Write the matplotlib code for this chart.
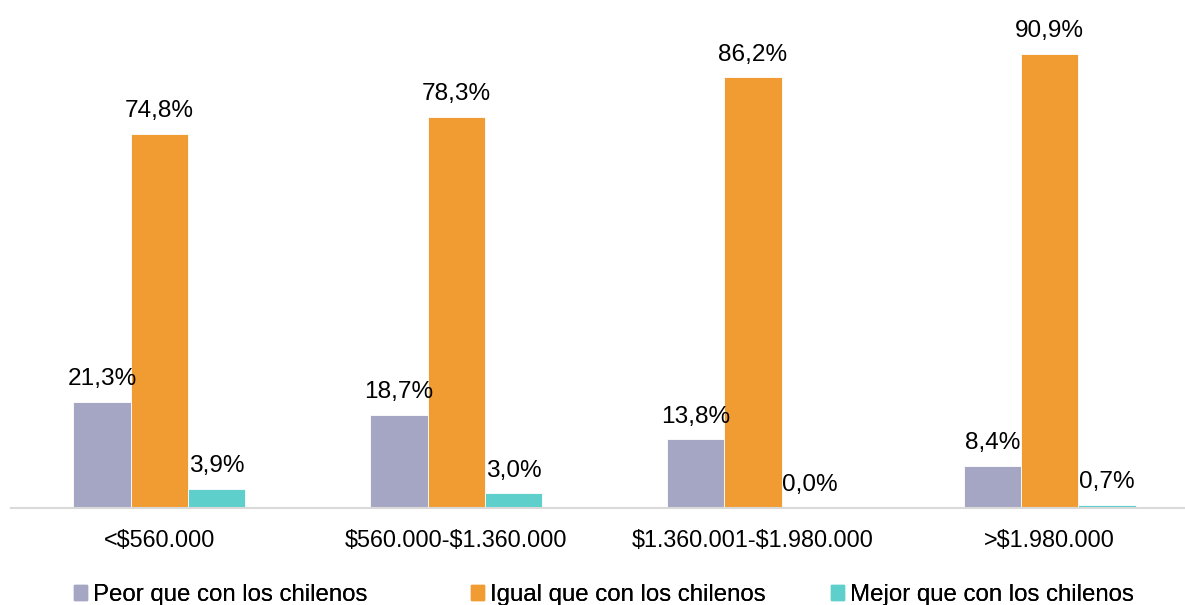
import numpy as np
import matplotlib
matplotlib.use("Agg")
import matplotlib.pyplot as plt
from matplotlib.patches import Patch

plt.rcParams['font.family'] = ['Liberation Sans', 'DejaVu Sans']
plt.rcParams['text.parse_math'] = False

categories = ['<$560.000', '$560.000-$1.360.000', '$1.360.001-$1.980.000', '>$1.980.000']
series_names = ['Peor que con los chilenos', 'Igual que con los chilenos', 'Mejor que con los chilenos']
peor = [21.3, 18.7, 13.8, 8.4]
igual = [74.8, 78.3, 86.2, 90.9]
mejor = [3.9, 3.0, 0.0, 0.7]
colors = ['#A5A5C4', '#F19C33', '#5ECFCB']

fig = plt.figure(figsize=(11.85, 6.05), dpi=100)
ax = fig.add_axes([11 / 1185, 97 / 605, 1174 / 1185, 500 / 605])

x = np.arange(len(categories))
w = 0.193
for i, (vals, name, c) in enumerate(zip([peor, igual, mejor], series_names, colors)):
    pos = x + (i - 1) * w
    ax.bar(pos, vals, width=w, color=c, label=name, edgecolor='white', linewidth=0.6)
    for p, v in zip(pos, vals):
        ax.text(p, v + 2.3, f'{v:.1f}%'.replace('.', ','), ha='center', va='bottom', fontsize=17.6)

ax.set_ylim(0, 100)
ax.set_xlim(-0.5, 3.456)
ax.set_xticks(x)
ax.set_xticklabels(categories, fontsize=16.8)
ax.tick_params(axis='x', length=0, pad=15)
ax.set_yticks([])
for s in ['top', 'right', 'left']:
    ax.spines[s].set_visible(False)
ax.spines['bottom'].set_color('#D9D9D9')
ax.spines['bottom'].set_linewidth(1.5)

# one legend per entry, placed like the original
leg_x = [67, 464, 824]
for lx, name, c in zip(leg_x, series_names, colors):
    leg = fig.legend(handles=[Patch(color=c)], labels=[name], loc='lower left',
                     bbox_to_anchor=(lx / 1185, -0.014), frameon=False, fontsize=17.3,
                     handlelength=0.55, handleheight=0.6, handletextpad=0.25,
                     borderaxespad=0, borderpad=0.3)
    fig.add_artist(leg)

fig.savefig('out.png', dpi=100)
